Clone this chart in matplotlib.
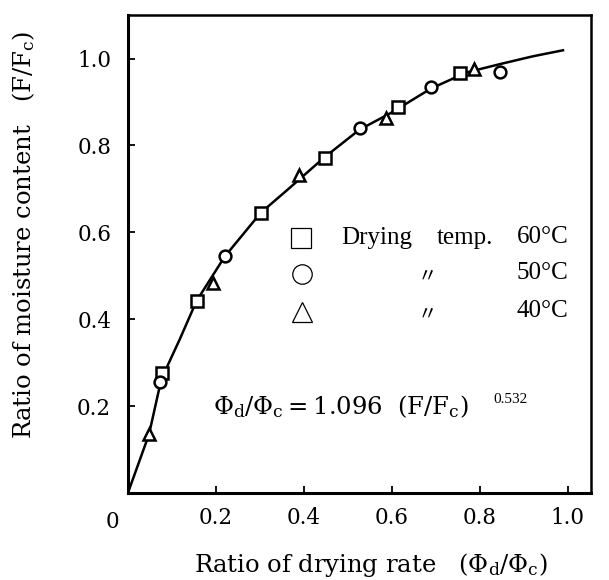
import matplotlib
matplotlib.use('Agg')
import matplotlib.pyplot as plt

plt.rcParams['font.family'] = ['Liberation Serif', 'DejaVu Serif']
plt.rcParams['mathtext.fontset'] = 'stix'

# fitted curve
curve_x = [0, 0.048, 0.076, 0.118, 0.156, 0.22, 0.302, 0.364, 0.446, 0.526, 0.6, 0.689, 0.77, 0.845, 0.92, 0.989]
curve_y = [0, 0.135, 0.262, 0.354, 0.442, 0.544, 0.645, 0.699, 0.772, 0.836, 0.876, 0.931, 0.968, 0.987, 1.005, 1.019]

# measured points per drying temperature
t60_x = [0.078, 0.156, 0.303, 0.447, 0.613, 0.755]
t60_y = [0.277, 0.442, 0.645, 0.771, 0.888, 0.966]
t50_x = [0.073, 0.220, 0.527, 0.688, 0.845]
t50_y = [0.256, 0.545, 0.840, 0.935, 0.969]
t40_x = [0.048, 0.194, 0.389, 0.586, 0.786]
t40_y = [0.136, 0.484, 0.733, 0.864, 0.976]

ticks = [0.2, 0.4, 0.6, 0.8, 1.0]
tick_labels = ['0.2', '0.4', '0.6', '0.8', '1.0']

wide = 'DejaVu Serif'

fig = plt.figure(figsize=(6.09, 5.80), dpi=100)
ax = fig.add_axes([0.210, 0.150, 0.760, 0.824])

ax.plot(curve_x, curve_y, color='black', lw=1.8, zorder=2)
mk = dict(linestyle='none', mfc='white', mec='black', mew=1.8, zorder=3)
ax.plot(t60_x, t60_y, marker='s', ms=8, **mk)
ax.plot(t50_x, t50_y, marker='o', ms=8.5, **mk)
ax.plot(t40_x, t40_y, marker='^', ms=9, **mk)

ax.set_xlim(0, 1.052)
ax.set_ylim(0, 1.1)
ax.set_xticks(ticks)
ax.set_xticklabels(tick_labels, family=wide, fontsize=15.5)
ax.set_yticks(ticks)
ax.set_yticklabels(tick_labels, family=wide, fontsize=15.5)
ax.tick_params(direction='in', length=5, width=1.3)
ax.tick_params(axis='x', pad=10)
ax.tick_params(axis='y', pad=12)
for s in ax.spines.values():
    s.set_linewidth(1.8)
ax.spines['left'].set_linewidth(2.2)
ax.spines['bottom'].set_linewidth(2.2)

ax.text(-0.034, -0.067, '0', fontsize=15.5, family=wide, ha='center', va='center', clip_on=False)

ax.set_xlabel(r'Ratio of drying rate   ($\Phi_{\rm d}/\Phi_{\rm c}$)', fontsize=17.5,
              family=wide, math_fontfamily='dejavuserif')
ax.xaxis.set_label_coords(0.525, -0.121)
ax.set_ylabel(r'Ratio of moisture content   (F/F$_{\rm c}$)', fontsize=17.5,
              family=wide, math_fontfamily='dejavuserif')
ax.yaxis.set_label_coords(-0.196, 0.54)

# legend drawn by hand like in the original
ax.plot([0.393], [0.586], marker='s', ms=15, mfc='white', mec='black', mew=0.9, clip_on=False)
ax.plot([0.395], [0.505], marker='o', ms=14, mfc='white', mec='black', mew=0.9, clip_on=False)
ax.plot([0.395], [0.416], marker='^', ms=14, mfc='white', mec='black', mew=0.9, clip_on=False)
ax.text(0.486, 0.586, 'Drying', fontsize=18, va='center')
ax.text(0.702, 0.586, 'temp.', fontsize=18, va='center')
ax.text(0.884, 0.590, '60°C', fontsize=18, va='center')
ax.text(0.68, 0.500, '〃', fontsize=14, ha='center', va='center', family=['Noto Sans CJK JP'])
ax.text(0.884, 0.507, '50°C', fontsize=18, va='center')
ax.text(0.68, 0.412, '〃', fontsize=14, ha='center', va='center', family=['Noto Sans CJK JP'])
ax.text(0.884, 0.420, '40°C', fontsize=18, va='center')

ax.text(0.193, 0.200, r'$\Phi_{\rm d}/\Phi_{\rm c}$$=$1.096  (F/F$_{\rm c}$)', fontsize=17.5,
        family=wide, math_fontfamily='dejavuserif', va='center')
ax.text(0.830, 0.216, '0.532', fontsize=11, va='center')

fig.savefig('out.png', dpi=100)
